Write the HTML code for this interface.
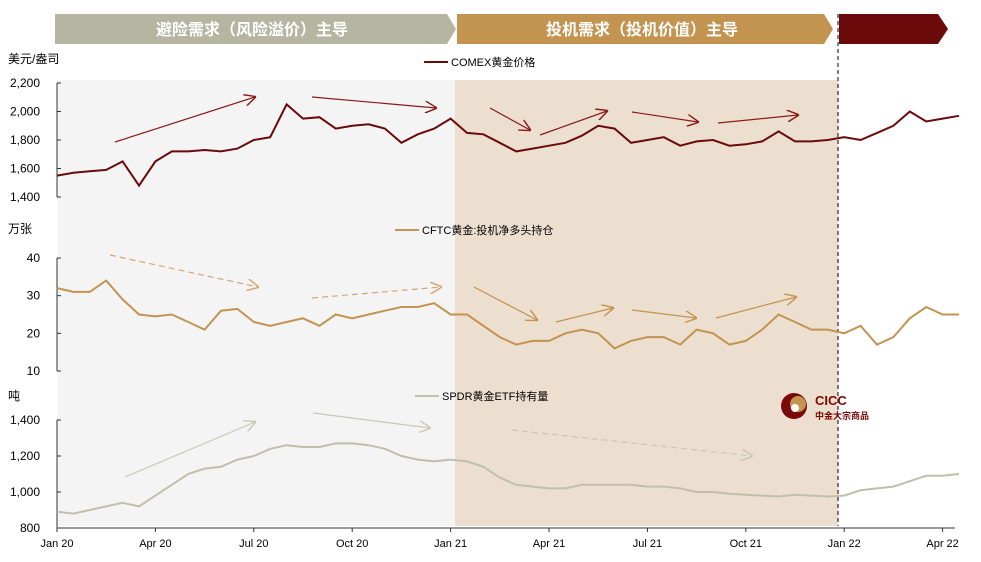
<!DOCTYPE html>
<html><head><meta charset="utf-8"><style>
body{margin:0;background:#fff;}
svg text{font-family:"Liberation Sans","Noto Sans CJK SC",sans-serif;}
</style></head><body>
<svg width="981" height="557" xmlns="http://www.w3.org/2000/svg">
<defs>
<marker id="ar" viewBox="0 0 10 10" refX="9" refY="5" markerWidth="12" markerHeight="12" orient="auto" markerUnits="userSpaceOnUse"><path d="M0,0 L10,5 L0,10" fill="none" stroke="context-stroke" stroke-width="1.2"/></marker>
</defs>
<rect x="57" y="80" width="398" height="446" fill="#f4f4f4"/>
<rect x="455" y="80" width="383" height="446" fill="#ecdfcf"/>
<polygon points="55,14 447,14 456,29 447,44 55,44" fill="#b5b5a1"/>
<text x="252" y="35" text-anchor="middle" font-size="16" font-weight="bold" fill="#fff">避险需求（风险溢价）主导</text>
<polygon points="457,14 824,14 833,29 824,44 457,44" fill="#c39350"/>
<text x="642" y="35" text-anchor="middle" font-size="16" font-weight="bold" fill="#fff">投机需求（投机价值）主导</text>
<polygon points="839,14 938,14 948,29 938,44 839,44" fill="#6b0a0a"/>
<line x1="838" y1="14" x2="838" y2="526" stroke="#000" stroke-dasharray="4,3"/>
<g id="axes"></g>
<g id="series"></g>
<g id="trend"></g>
<text x="8" y="63" font-size="12">美元/盎司</text>
<text x="8" y="233" font-size="12">万张</text>
<text x="8" y="400" font-size="12">吨</text>
<line x1="424" y1="62" x2="448" y2="62" stroke="#6b0a0a" stroke-width="2"/>
<text x="451" y="66" font-size="11">COMEX黄金价格</text>
<line x1="395" y1="230" x2="419" y2="230" stroke="#c39350" stroke-width="2"/>
<text x="422" y="234" font-size="11">CFTC黄金:投机净多头持仓</text>
<line x1="415" y1="396" x2="439" y2="396" stroke="#c0c0aa" stroke-width="2"/>
<text x="442" y="400" font-size="11">SPDR黄金ETF持有量</text>
<g>
<circle cx="794" cy="406" r="13" fill="#7a0a0a"/><circle cx="798" cy="404" r="8" fill="#c39350"/><circle cx="795" cy="408" r="4" fill="#fff"/>
<text x="815" y="405" font-size="13" font-weight="bold" fill="#7a0a0a">CICC</text>
<text x="815" y="419" font-size="9" font-weight="bold" fill="#7a0a0a">中金大宗商品</text>
</g>
</svg>
<script>
const months=['Jan 20','Apr 20','Jul 20','Oct 20','Jan 21','Apr 21','Jul 21','Oct 21','Jan 22','Apr 22'];
const goldTicks=[1400,1600,1800,2000,2200];
const cftcTicks=[10,20,30,40];
const spdrTicks=[800,1000,1200,1400];
const gold=[1550,1570,1580,1590,1650,1480,1650,1720,1720,1730,1720,1740,1800,1820,2050,1950,1960,1880,1900,1910,1880,1780,1840,1880,1950,1850,1840,1780,1720,1740,1760,1780,1830,1900,1880,1780,1800,1820,1760,1790,1800,1760,1770,1790,1860,1790,1790,1800,1820,1800,1850,1900,2000,1930,1950,1970];
const cftc=[32,31,31,34,29,25,24.5,25,23,21,26,26.5,23,22,23,24,22,25,24,25,26,27,27,28,25,25,22,19,17,18,18,20,21,20,16,18,19,19,17,21,20,17,18,21,25,23,21,21,20,22,17,19,24,27,25,25];
const spdr=[890,880,900,920,940,920,980,1040,1100,1130,1140,1180,1200,1240,1260,1250,1250,1270,1270,1260,1240,1200,1180,1170,1180,1170,1140,1080,1040,1030,1020,1020,1040,1040,1040,1040,1030,1030,1020,1000,1000,990,985,980,975,985,980,975,980,1010,1020,1030,1060,1090,1090,1100];
const NS='http://www.w3.org/2000/svg';
const xOf=t=>57+t*32.8;
const panels=[
 {data:gold,ticks:goldTicks,y0:197,y1:83,v0:1400,v1:2200,col:'#6b0a0a',name:'comex',fmt:v=>v.toLocaleString('en-US')},
 {data:cftc,ticks:cftcTicks,y0:371,y1:258,v0:10,v1:40,col:'#c39350',name:'cftc',fmt:v=>v},
 {data:spdr,ticks:spdrTicks,y0:528,y1:420,v0:800,v1:1400,col:'#c0c0aa',name:'spdr',fmt:v=>v.toLocaleString('en-US')}];
function mk(tag,at,parent){const e=document.createElementNS(NS,tag);for(const k in at)e.setAttribute(k,at[k]);document.getElementById(parent).appendChild(e);return e;}
panels.forEach(p=>{
 const yOf=v=>p.y0+(v-p.v0)/(p.v1-p.v0)*(p.y1-p.y0);
 const ax=mk('line',{x1:57,x2:57,y1:p.y0,y2:p.y1,stroke:'#333'},'axes');
 
 
 p.ticks.forEach(v=>{
  mk('line',{x1:57,x2:61,y1:yOf(v),y2:yOf(v),stroke:'#333'},'axes');
  const t=mk('text',{x:40,y:yOf(v)+4,'font-size':12,'text-anchor':'end'},'axes');t.textContent=p.fmt(v);
  
  
 });
 const pts=p.data.map((v,i)=>xOf(i*0.5).toFixed(1)+','+yOf(v).toFixed(1)).join(' ');
 const pl=mk('polyline',{points:pts,fill:'none',stroke:p.col,'stroke-width':2},'series');
 
 
});
mk('line',{x1:57,x2:955,y1:528,y2:528,stroke:'#333'},'axes');
months.forEach((m,i)=>{
 const x=xOf(i*3);
 mk('line',{x1:x,x2:x,y1:528,y2:532,stroke:'#333'},'axes');
 const t=mk('text',{x:x,y:547,'font-size':11,'text-anchor':'middle'},'axes');t.textContent=m;
 
 
});
const arrows=[
 [115,142,255,97,'#8b1a1a',0],[312,97,436,108,'#8b1a1a',0],[490,108,530,130,'#8b1a1a',0],[540,135,607,111,'#8b1a1a',0],[632,112,698,122,'#8b1a1a',0],[718,123,798,115,'#8b1a1a',0],
 [110,255,258,287,'#d4a574',1],[312,298,441,287,'#d4a574',1],[474,287,537,320,'#c39350',0],[556,322,613,308,'#c39350',0],[632,310,696,318,'#c39350',0],[716,318,796,297,'#c39350',0],
 [125,477,255,422,'#c8c8b4',0],[313,413,430,428,'#c8c8b4',0],[512,430,752,456,'#c8c8b4',1]];
arrows.forEach(a=>{
 const l=mk('line',{x1:a[0],y1:a[1],x2:a[2],y2:a[3],stroke:a[4],'stroke-width':1.2,'marker-end':'url(#ar)'},'trend');
 if(a[5])l.setAttribute('stroke-dasharray','6,4');
 
 
});
</script>
</body></html>
